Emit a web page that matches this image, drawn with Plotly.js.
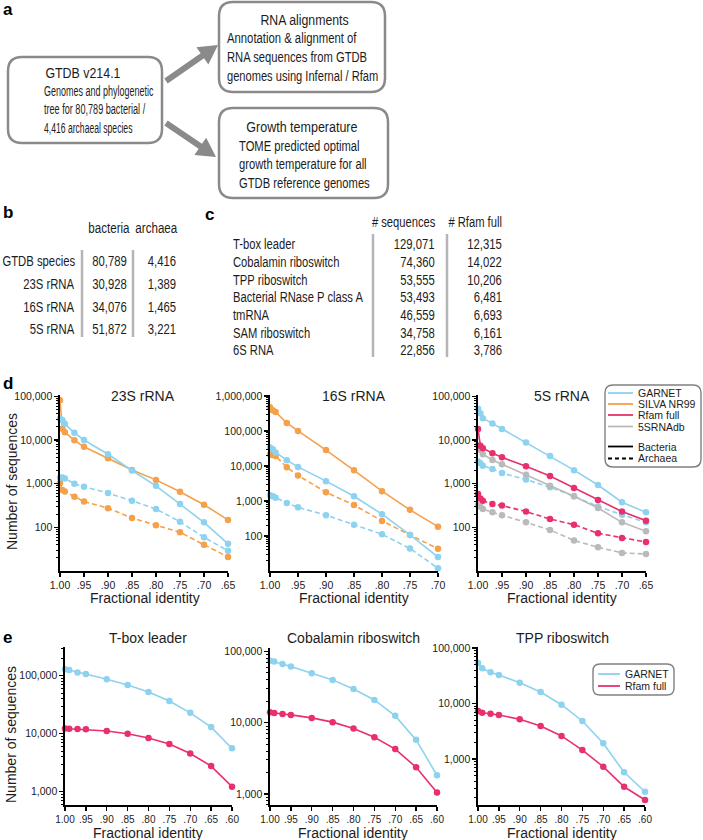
<!DOCTYPE html>
<html><head><meta charset="utf-8">
<script src="https://cdn.plot.ly/plotly-3.0.1.min.js"></script>
<style>html,body{margin:0;padding:0;background:#fff;}#chart{width:703px;height:840px;}</style>
</head><body><div id="chart"></div>
<script>
// ---------------- DATA ----------------
const fracD = [1.00, 0.995, 0.99, 0.97, 0.95, 0.90, 0.85, 0.80, 0.75, 0.70, 0.65];
const frac16S = [1.00, 0.995, 0.99, 0.97, 0.95, 0.90, 0.85, 0.80, 0.75, 0.70];
const fracE = [1.00, 0.99, 0.97, 0.95, 0.90, 0.85, 0.80, 0.75, 0.70, 0.65, 0.60];

// 23S rRNA
const s23_garnet_bac = [30928, 28400, 23400, 14600, 10000, 4700, 2000, 890, 340, 130, 42];
const s23_silva_bac  = [81000, 18000, 15100, 9800, 7000, 3800, 2050, 1220, 650, 330, 148];
const s23_garnet_arc = [1389, 1380, 1310, 1000, 850, 610, 405, 262, 134, 59, 29];
const s23_silva_arc  = [1030, 720, 665, 500, 390, 275, 163, 112, 77, 40, 21];
// 16S rRNA
const s16_silva_bac  = [480000, 393000, 352000, 170000, 101000, 28600, 7560, 1910, 560, 185];
const s16_garnet_bac = [34076, 30000, 24500, 14700, 9450, 3700, 1370, 420, 107, 25];
const s16_silva_arc  = [21500, 20600, 19200, 9200, 5400, 1780, 770, 270, 107, 43];
const s16_garnet_arc = [1465, 1370, 1250, 880, 660, 395, 210, 112, 44, 12];
// 5S rRNA
const s5_garnet_bac = [51872, 41000, 31500, 24000, 17900, 8800, 4300, 2040, 930, 375, 220];
const s5_garnet_arc = [3221, 2940, 2580, 2170, 1750, 1240, 825, 515, 300, 195, 130];
const s5_rfam_bac   = [17800, 7400, 6500, 4950, 4000, 2500, 1490, 800, 425, 230, 142];
const s5_rfam_arc   = [580, 460, 405, 340, 315, 230, 155, 115, 73, 57, 46];
const s5_db_bac     = [7700, 5900, 4700, 3470, 2770, 1600, 900, 515, 277, 130, 81];
const s5_db_arc     = [320, 295, 263, 220, 190, 130, 87, 50, 35, 26, 24.5];
// e panels
const tbox_garnet = [129071, 125000, 114000, 107000, 86500, 69000, 52300, 36600, 22900, 13000, 5580];
const tbox_rfam   = [12315, 12200, 12000, 11900, 11100, 10000, 8400, 6620, 4560, 2760, 1220];
const cob_garnet  = [74360, 72400, 67100, 61600, 49600, 40000, 29800, 20900, 12500, 5750, 1830];
const cob_rfam    = [14022, 13700, 13300, 12900, 11700, 10200, 8280, 6250, 4270, 2370, 1050];
const tpp_garnet  = [53555, 43100, 36500, 32600, 23700, 16100, 9500, 4840, 1920, 575, 257];
const tpp_rfam    = [7330, 6830, 6550, 6200, 5190, 3930, 2600, 1450, 727, 316, 182];

// tables
const speciesRows = ['GTDB species', '23S rRNA', '16S rRNA', '5S rRNA'];
const bacteriaCounts = [80789, 30928, 34076, 51872];
const archaeaCounts = [4416, 1389, 1465, 3221];
const rnaFamilies = ['T-box leader', 'Cobalamin riboswitch', 'TPP riboswitch', 'Bacterial RNase P class A', 'tmRNA', 'SAM riboswitch', '6S RNA'];
const seqCounts = [129071, 74360, 53555, 53493, 46559, 34758, 22856];
const rfamCounts = [12315, 14022, 10206, 6481, 6693, 6161, 3786];

// tick labels
const xTicksD23 = [1.00, 0.95, 0.90, 0.85, 0.80, 0.75, 0.70, 0.65];
const xLabelsD23 = ['1.00', '.95', '.90', '.85', '.80', '.75', '.70', '.65'];
const xTicksD16 = [1.00, 0.95, 0.90, 0.85, 0.80, 0.75, 0.70];
const xLabelsD16 = ['1.00', '.95', '.90', '.85', '.80', '.75', '.70'];
const xTicksE = [1.00, 0.95, 0.90, 0.85, 0.80, 0.75, 0.70, 0.65, 0.60];
const xLabelsE = ['1.00', '.95', '.90', '.85', '.80', '.75', '.70', '.65', '.60'];
const yTicksD = [100, 1000, 10000, 100000];
const yLabelsD = ['100', '1,000', '10,000', '100,000'];
const yTicks16 = [100, 1000, 10000, 100000, 1000000];
const yLabels16 = ['100', '1,000', '10,000', '100,000', '1,000,000'];
const yTicksE = [1000, 10000, 100000];
const yLabelsE = ['1,000', '10,000', '100,000'];

// ---------------- STYLE ----------------
const W = 703, H = 840;
const COL = {garnet: '#8dd2ee', silva: '#f5a04b', rfam: '#e8306f', db: '#bababa'};
const TXT = '#1c1c1c';
const SANS = '"Liberation Sans", Arial, Helvetica, sans-serif';
const X = px => px / W;
const Y = py => 1 - py / H;

// ---------------- TRACES ----------------
const traces = [];
function tr(x, y, color, dashed, ax) {
  traces.push({
    x: x, y: y, type: 'scatter', mode: 'lines+markers',
    line: {color: color, width: 1.6, dash: dashed ? '5px,3px' : 'solid'},
    marker: {color: color, size: 6.5},
    xaxis: ax === 1 ? 'x' : 'x' + ax, yaxis: ax === 1 ? 'y' : 'y' + ax,
    cliponaxis: false, showlegend: false, hoverinfo: 'skip'
  });
}
tr(fracD, s23_silva_arc, COL.silva, true, 1);
tr(fracD, s23_garnet_arc, COL.garnet, true, 1);
tr(fracD, s23_silva_bac, COL.silva, false, 1);
tr(fracD, s23_garnet_bac, COL.garnet, false, 1);

tr(frac16S, s16_garnet_arc, COL.garnet, true, 2);
tr(frac16S, s16_silva_arc, COL.silva, true, 2);
tr(frac16S, s16_garnet_bac, COL.garnet, false, 2);
tr(frac16S, s16_silva_bac, COL.silva, false, 2);

tr(fracD, s5_db_arc, COL.db, true, 3);
tr(fracD, s5_rfam_arc, COL.rfam, true, 3);
tr(fracD, s5_garnet_arc, COL.garnet, true, 3);
tr(fracD, s5_db_bac, COL.db, false, 3);
tr(fracD, s5_rfam_bac, COL.rfam, false, 3);
tr(fracD, s5_garnet_bac, COL.garnet, false, 3);

tr(fracE, tbox_rfam, COL.rfam, false, 4);
tr(fracE, tbox_garnet, COL.garnet, false, 4);
tr(fracE, cob_rfam, COL.rfam, false, 5);
tr(fracE, cob_garnet, COL.garnet, false, 5);
tr(fracE, tpp_rfam, COL.rfam, false, 6);
tr(fracE, tpp_garnet, COL.garnet, false, 6);

// ---------------- AXES ----------------
function minorVals(lo, hi) {
  const v = [];
  for (let e = Math.floor(lo); e <= Math.ceil(hi); e++)
    for (let m = 2; m <= 9; m++) { const val = m * Math.pow(10, e); const l = Math.log10(val); if (l > lo && l < hi) v.push(val); }
  return v;
}
const layout = {
  width: W, height: H, margin: {l: 0, r: 0, t: 0, b: 0},
  paper_bgcolor: '#fff', plot_bgcolor: 'rgba(0,0,0,0)', showlegend: false,
  font: {family: SANS, color: TXT}, annotations: [], shapes: []
};
function addPlot(i, x0, x1, y0, y1, xr, xt, xl, yr, yt, yl, xfs) {
  const sx = i === 1 ? '' : String(i);
  const base = {showline: true, linecolor: '#000', linewidth: 1.6, ticks: 'outside', ticklen: 4, tickwidth: 1.4,
    tickcolor: '#000', showgrid: false, zeroline: false, automargin: false, fixedrange: true,
    tickfont: {family: SANS, size: 10.5, color: TXT}};
  layout['xaxis' + sx] = Object.assign({}, base, {domain: [X(x0), X(x1)], range: xr, tickmode: 'array',
    tickvals: xt, ticktext: xl, anchor: 'y' + sx, tickfont: {family: SANS, size: xfs, color: TXT}});
  layout['yaxis' + sx] = Object.assign({}, base, {type: 'log', domain: [Y(y1), Y(y0)], range: yr, tickmode: 'array',
    tickvals: yt, ticktext: yl, anchor: 'x' + sx,
    minor: {tickmode: 'array', tickvals: minorVals(yr[0], yr[1]), ticks: 'outside', ticklen: 2.5, tickwidth: 1, tickcolor: '#000', showgrid: false}});
}
addPlot(1, 60, 228, 395, 571, [1.0, 0.65], xTicksD23, xLabelsD23, [1, 5.03], yTicksD, yLabelsD, 10.5);
addPlot(2, 270, 438, 395, 571, [1.0, 0.70], xTicksD16, xLabelsD16, [1, 6.03], yTicks16, yLabels16, 10.5);
addPlot(3, 478, 646, 395, 571, [1.0, 0.65], xTicksD23, xLabelsD23, [1, 5.03], yTicksD, yLabelsD, 10.5);
addPlot(4, 65, 232, 647, 805, [1.0, 0.60], xTicksE, xLabelsE, [2.77, 5.495], yTicksE, yLabelsE, 10);
addPlot(5, 270, 437, 648, 805, [1.0, 0.60], xTicksE, xLabelsE, [2.845, 5.05], yTicksE, yLabelsE, 10);
addPlot(6, 478, 645, 647, 805, [1.0, 0.60], xTicksE, xLabelsE, [2.171, 5.018], yTicksE, yLabelsE, 10);

// ---------------- ANNOTATION HELPERS ----------------
const SQ = {};  // annotation index -> horizontal squeeze factor (condensed type)
function txt(text, x, y, font, xanchor, extra) {
  const a = xanchor || 'center';
  layout.annotations.push(Object.assign({text: text, x: X(x), y: Y(y), xref: 'paper', yref: 'paper',
    xanchor: a, align: a, yanchor: 'middle', showarrow: false, font: font}, extra || {}));
  return layout.annotations.length - 1;
}
// condensed text: size = glyph height size, eq = equivalent regular width size
function ctxt(text, x, y, size, eq, xanchor) {
  const i = txt(text, x, y, {family: SANS, size: size, color: TXT}, xanchor);
  SQ[i] = eq / size;
}
const f14 = {family: SANS, size: 14, color: TXT};
const fLeg = {family: SANS, size: 10.5, color: TXT};
function line(x0, y0, x1, y1, color, width, dash) {
  layout.shapes.push({type: 'line', xref: 'paper', yref: 'paper', x0: X(x0), y0: Y(y0), x1: X(x1), y1: Y(y1),
    line: {color: color, width: width, dash: dash || 'solid'}});
}
function rr(x0, y0, x1, y1, r, color, width) {
  const p = (x, y) => X(x).toFixed(5) + ',' + Y(y).toFixed(5);
  const path = 'M' + p(x0 + r, y0) + ' L' + p(x1 - r, y0) + ' Q' + p(x1, y0) + ' ' + p(x1, y0 + r) +
    ' L' + p(x1, y1 - r) + ' Q' + p(x1, y1) + ' ' + p(x1 - r, y1) + ' L' + p(x0 + r, y1) +
    ' Q' + p(x0, y1) + ' ' + p(x0, y1 - r) + ' L' + p(x0, y0 + r) + ' Q' + p(x0, y0) + ' ' + p(x0 + r, y0) + ' Z';
  layout.shapes.push({type: 'path', xref: 'paper', yref: 'paper', path: path, line: {color: color, width: width}, fillcolor: 'rgba(0,0,0,0)'});
}
function arrow(x0, y0, x1, y1, sw, hw, hl, color) {
  const dx = x1 - x0, dy = y1 - y0, L = Math.hypot(dx, dy), ux = dx / L, uy = dy / L, nx = -uy, ny = ux;
  const bx = x1 - ux * hl, by = y1 - uy * hl;
  const pts = [[x0 + nx * sw / 2, y0 + ny * sw / 2], [bx + nx * sw / 2, by + ny * sw / 2], [bx + nx * hw / 2, by + ny * hw / 2],
    [x1, y1], [bx - nx * hw / 2, by - ny * hw / 2], [bx - nx * sw / 2, by - ny * sw / 2], [x0 - nx * sw / 2, y0 - ny * sw / 2]];
  const path = 'M' + pts.map(q => X(q[0]).toFixed(5) + ',' + Y(q[1]).toFixed(5)).join(' L') + ' Z';
  layout.shapes.push({type: 'path', xref: 'paper', yref: 'paper', path: path, line: {width: 0}, fillcolor: color});
}

// panel letters
const fLab = {family: SANS, size: 17, color: '#000'};
txt('<b>a</b>', 1, 10, fLab, 'left');
txt('<b>b</b>', 1, 212, fLab, 'left');
txt('<b>c</b>', 203, 214, fLab, 'left');
txt('<b>d</b>', 1, 384, fLab, 'left');
txt('<b>e</b>', 1, 637, fLab, 'left');

// ---------------- PANEL a ----------------
const boxCol = '#8a8a8a';
rr(8, 57, 162, 143, 14, boxCol, 2.5);
rr(219, 2, 385, 92, 14, boxCol, 2.5);
rr(219, 108, 388, 198, 14, boxCol, 2.5);
arrow(166, 81, 218, 45, 6, 21, 19, boxCol);
arrow(166, 123, 216, 157, 6, 21, 19, boxCol);
ctxt('GTDB v214.1', 83, 72, 15.5, 12.4, 'center');
ctxt('Genomes and phylogenetic', 42, 91, 14, 9.0, 'left');
ctxt('tree for 80,789 bacterial /', 42, 109.5, 14, 9.1, 'left');
ctxt('4,416 archaeal species', 42, 128, 14, 8.6, 'left');
ctxt('RNA alignments', 304, 19, 15.5, 12.3, 'center');
ctxt('Annotation & alignment of', 225, 38.5, 14, 11.3, 'left');
ctxt('RNA sequences from GTDB', 225, 57, 14, 11.2, 'left');
ctxt('genomes using Infernal / Rfam', 225, 75.5, 14, 11.1, 'left');
ctxt('Growth temperature', 302, 126, 15.5, 12.5, 'center');
ctxt('TOME predicted optimal', 237, 146, 14, 11.2, 'left');
ctxt('growth temperature for all', 237, 164.5, 14, 11.2, 'left');
ctxt('GTDB reference genomes', 237, 183, 14, 11.2, 'left');

// ---------------- PANEL b ----------------
ctxt('bacteria', 109, 228, 14, 11.6, 'center');
ctxt('archaea', 156, 228, 14, 11.6, 'center');
const bRowY = [261, 284, 307, 329.5];
speciesRows.forEach((r, i) => {
  ctxt(r, 77, bRowY[i], 14, 11.3, 'right');
  ctxt(bacteriaCounts[i].toLocaleString('en-US'), 129, bRowY[i], 14, 11.3, 'right');
  ctxt(archaeaCounts[i].toLocaleString('en-US'), 178, bRowY[i], 14, 11.3, 'right');
});
line(82, 250, 82, 337, '#b5b5b5', 2.5);
line(133, 250, 133, 337, '#b5b5b5', 2.5);

// ---------------- PANEL c ----------------
ctxt('# sequences', 437, 222, 14, 11.2, 'right');
ctxt('# Rfam full', 504, 222, 14, 11.2, 'right');
rnaFamilies.forEach((r, i) => {
  const y = 244.3 + i * 17.65;
  ctxt(r, 231, y, 14, 11.2, 'left');
  ctxt(seqCounts[i].toLocaleString('en-US'), 437, y, 14, 11.3, 'right');
  ctxt(rfamCounts[i].toLocaleString('en-US'), 504, y, 14, 11.3, 'right');
});
line(373, 234, 373, 357, '#b5b5b5', 2.5);
line(447, 234, 447, 357, '#b5b5b5', 2.5);

// ---------------- PANEL d/e labels ----------------
txt('23S rRNA', 143, 396, f14);
txt('16S rRNA', 354, 396, f14);
txt('5S rRNA', 562, 396, f14);
txt('Fractional identity', 144.5, 598, f14);
txt('Fractional identity', 354, 598, f14);
txt('Fractional identity', 562, 598, f14);
txt('Number of sequences', 12, 482, f14, 'center', {textangle: -90});
txt('T-box leader', 148, 638, f14);
txt('Cobalamin riboswitch', 353, 638, f14);
txt('TPP riboswitch', 562, 638, f14);
txt('Fractional identity', 148, 832.5, f14);
txt('Fractional identity', 353, 832.5, f14);
txt('Fractional identity', 562, 832.5, f14);
txt('Number of sequences', 11, 735, f14, 'center', {textangle: -90});

// ---------------- LEGENDS ----------------
rr(605, 385, 701, 467, 8, '#808080', 1.4);
const legD = [['GARNET', COL.garnet, 'solid', 393], ['SILVA NR99', COL.silva, 'solid', 404], ['Rfam full', COL.rfam, 'solid', 415],
  ['5SRNAdb', COL.db, 'solid', 426.5], ['Bacteria', '#000', 'solid', 446.5], ['Archaea', '#000', '4px,3px', 458.5]];
legD.forEach(e => { line(608, e[3], 633, e[3], e[1], 1.8, e[2]); txt(e[0], 636, e[3], fLeg, 'left'); });
rr(593, 664, 674, 695, 7, '#808080', 1.4);
line(598, 674, 620, 674, COL.garnet, 1.8);
txt('GARNET', 623, 674, fLeg, 'left');
line(598, 686, 620, 686, COL.rfam, 1.8);
txt('Rfam full', 623, 686, fLeg, 'left');

Plotly.newPlot('chart', traces, layout, {staticPlot: true, displayModeBar: false}).then(gd => {
  gd.querySelectorAll('g.annotation').forEach(g => {
    const i = +g.getAttribute('data-index');
    const f = SQ[i];
    if (!f) return;
    const t = g.querySelector('text.annotation-text');
    if (!t) return;
    const L = t.getComputedTextLength();
    t.setAttribute('textLength', (L * f).toFixed(2));
    t.setAttribute('lengthAdjust', 'spacingAndGlyphs');
  });
});
</script></body></html>
